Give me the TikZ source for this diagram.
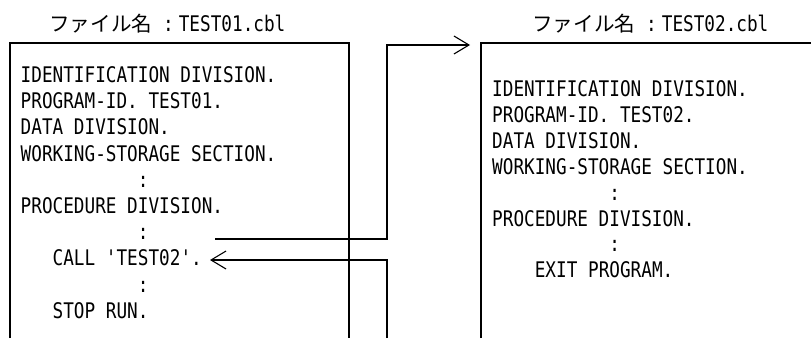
\documentclass[tikz,border=0pt]{standalone}
\usepackage{fontspec}
\usetikzlibrary{arrows.meta}
\newfontfamily\codefont[FakeStretch=0.823]{DejaVu Sans Mono}
\newfontfamily\jpfont{Noto Sans CJK JP}
\newcommand{\cw}{10.66}% width of one code character

\tikzset{
  codeline/.style={anchor=base west, inner sep=0pt,
    font=\codefont\fontsize{21.5}{24}\selectfont},
  filetitle/.style={anchor=base west, inner sep=0pt,
    font=\fontsize{20.6}{24}\selectfont},
  wire/.style={line width=1.1pt},
  callarrow/.style={wire, -{Straight Barb[length=15pt,width=18pt]}}
}

\begin{document}
\begin{tikzpicture}[x=1pt, y=-1pt]
  \useasboundingbox (0,0) rectangle (811,338);

  % file titles
  \node[filetitle] (title1) at (49,31)
    {\makebox[114pt][l]{\jpfont ファイル名}{\codefont\fontsize{21.5}{24}\selectfont :\hspace{5pt}TEST01.cbl}};
  \node[filetitle] (title2) at (532,31)
    {\makebox[114pt][l]{\jpfont ファイル名}{\codefont\fontsize{21.5}{24}\selectfont :\hspace{5pt}TEST02.cbl}};

  % open program boxes
  \draw[wire] (10,338) |- (349,43) -- (349,338);
  \draw[wire] (481,338) |- (811,43);

  % calling program
  \foreach \ind/\txt [count=\i] in {0/IDENTIFICATION DIVISION., 0/PROGRAM-ID. TEST01.,
      0/DATA DIVISION., 0/WORKING-STORAGE SECTION., 11/:, 0/PROCEDURE DIVISION.,
      11/:, 3/CALL 'TEST02'., 11/:, 3/STOP RUN.}
    \node[codeline] (l\i) at ({20.5+\ind*\cw}, {82.5+(\i-1)*26.2}) {\txt};

  % called program
  \foreach \ind/\txt [count=\i] in {0/IDENTIFICATION DIVISION., 0/PROGRAM-ID. TEST02.,
      0/DATA DIVISION., 0/WORKING-STORAGE SECTION., 11/:, 0/PROCEDURE DIVISION.,
      11/:, 4/EXIT PROGRAM.}
    \node[codeline] (r\i) at ({492+\ind*\cw}, {96.5+(\i-1)*25.9}) {\txt};

  % call and return
  \coordinate (callsrc) at (215,239);
  \coordinate (bus) at (387,45);
  \coordinate (entry) at (470,45);
  \coordinate (retsrc) at (387,338);
  \coordinate (rettgt) at (210,260);
  \draw[callarrow] (callsrc) -| (bus) -- (entry);
  \draw[callarrow] (retsrc) |- (rettgt);
\end{tikzpicture}
\end{document}
